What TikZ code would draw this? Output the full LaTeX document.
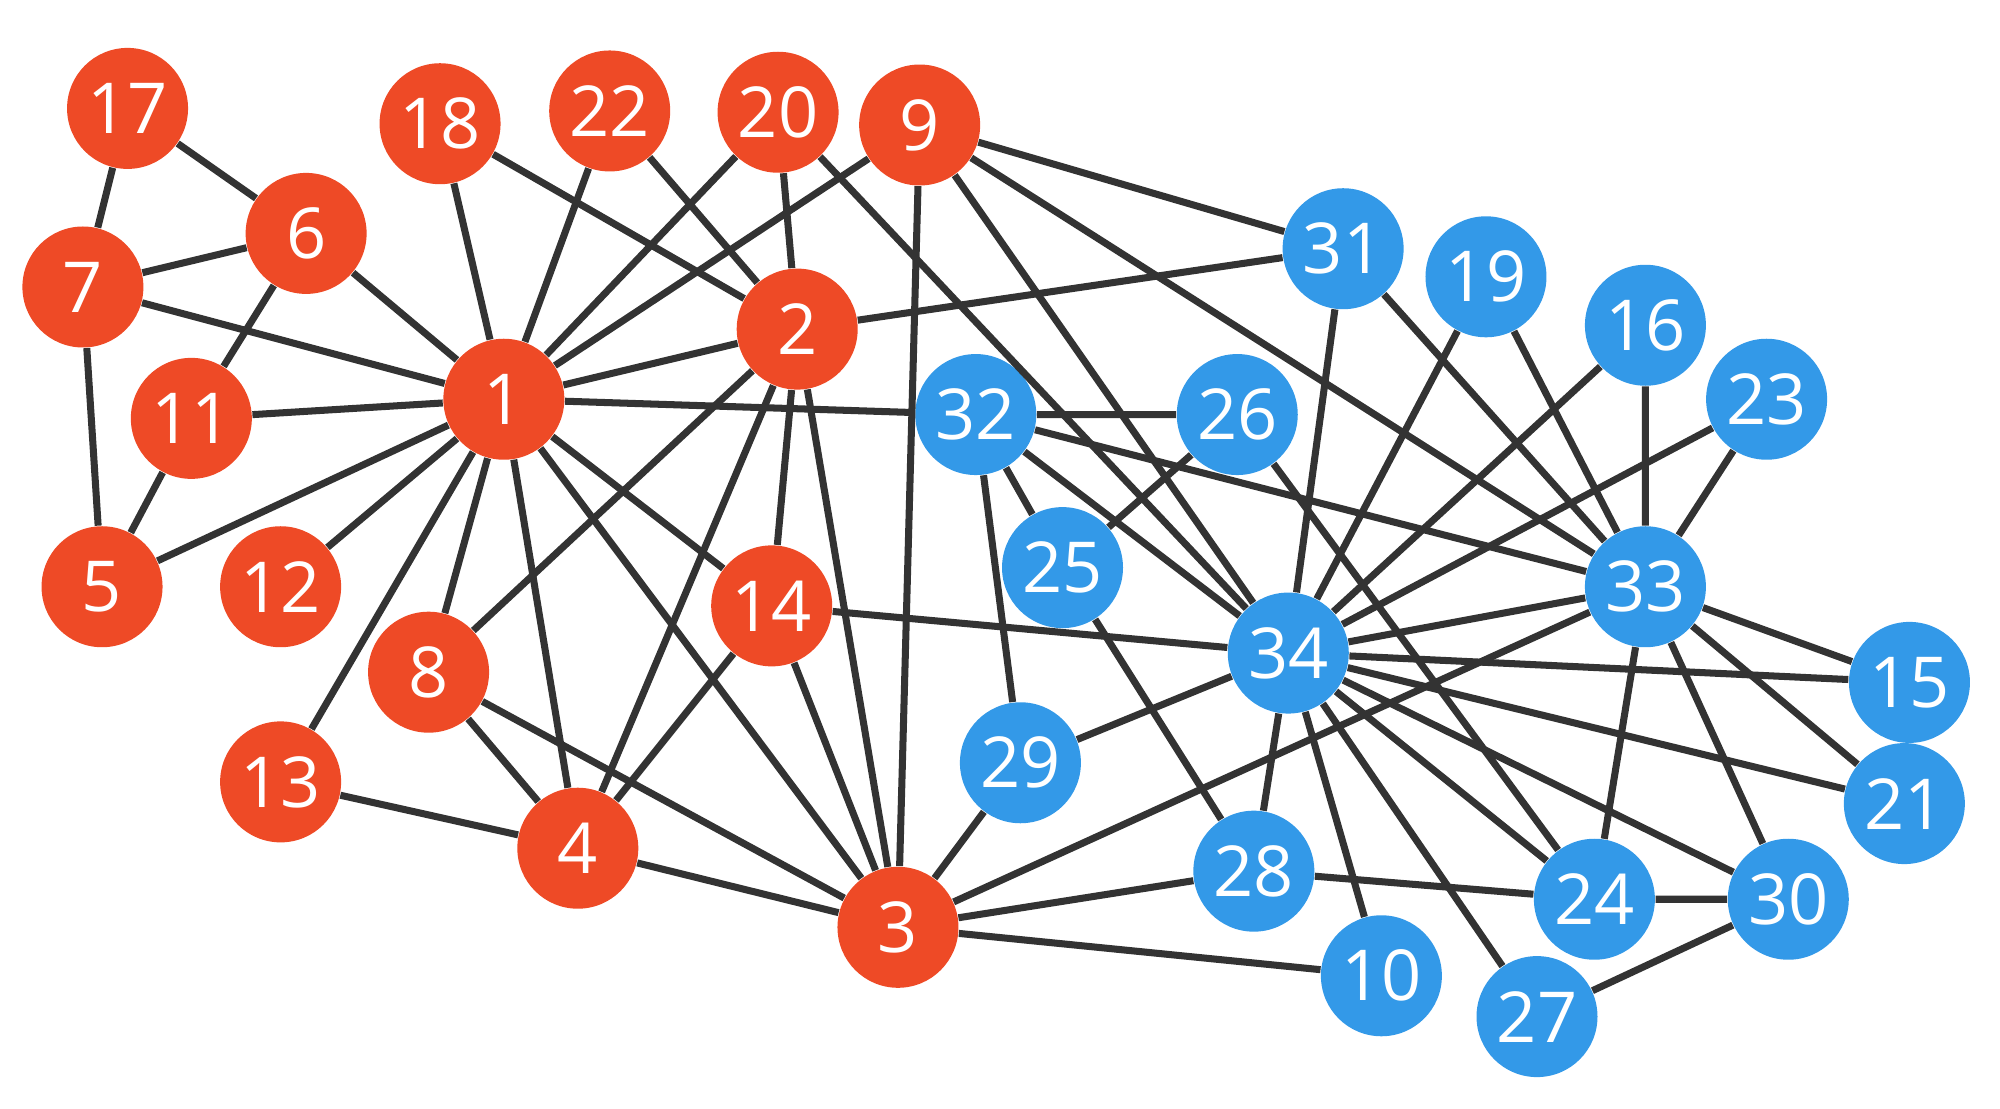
\documentclass[tikz,border=0pt]{standalone}
\usepackage{fontspec}
\setmainfont{Open Sans}
\usepackage{tikz}
\definecolor{clubred}{HTML}{EE4A26}
\definecolor{clubblue}{HTML}{3399E8}
\definecolor{edgegray}{HTML}{333333}

\begin{document}
\begin{tikzpicture}[x=0.012755cm,y=-0.012755cm,
  every node/.style={circle,inner sep=0pt,minimum size=1.21cm,text=white,font=\fontsize{20}{20}\selectfont},
  redmember/.style={fill=clubred},
  bluemember/.style={fill=clubblue},
  tie/.style={draw=edgegray,line width=2pt}]
  \useasboundingbox (0,0) rectangle (1568,869);
  \node[redmember] (v1) at (395,313) {1};
  \node[redmember] (v2) at (625,258) {2};
  \node[redmember] (v3) at (704,727) {3};
  \node[redmember] (v4) at (453,665) {4};
  \node[redmember] (v5) at (80,460) {5};
  \node[redmember] (v6) at (240,183) {6};
  \node[redmember] (v7) at (65,225) {7};
  \node[redmember] (v8) at (336,527) {8};
  \node[redmember] (v9) at (721,98) {9};
  \node[bluemember] (v10) at (1083,765) {10};
  \node[redmember] (v11) at (150,328) {11};
  \node[redmember] (v12) at (220,460) {12};
  \node[redmember] (v13) at (220,613) {13};
  \node[redmember] (v14) at (605,475) {14};
  \node[bluemember] (v15) at (1497,535) {15};
  \node[bluemember] (v16) at (1290,255) {16};
  \node[redmember] (v17) at (100,85) {17};
  \node[redmember] (v18) at (345,97) {18};
  \node[bluemember] (v19) at (1165,217) {19};
  \node[redmember] (v20) at (610,88) {20};
  \node[bluemember] (v21) at (1493,630) {21};
  \node[redmember] (v22) at (478,87) {22};
  \node[bluemember] (v23) at (1385,313) {23};
  \node[bluemember] (v24) at (1250,705) {24};
  \node[bluemember] (v25) at (833,445) {25};
  \node[bluemember] (v26) at (970,325) {26};
  \node[bluemember] (v27) at (1205,797) {27};
  \node[bluemember] (v28) at (983,683) {28};
  \node[bluemember] (v29) at (800,598) {29};
  \node[bluemember] (v30) at (1402,705) {30};
  \node[bluemember] (v31) at (1053,195) {31};
  \node[bluemember] (v32) at (765,325) {32};
  \node[bluemember] (v33) at (1290,460) {33};
  \node[bluemember] (v34) at (1010,512) {34};
  % edges
  \draw[tie] (v1) -- (v2) (v1) -- (v3) (v1) -- (v4) (v1) -- (v5) (v1) -- (v6) (v1) -- (v7) (v1) -- (v8) (v1) -- (v9);
  \draw[tie] (v1) -- (v11) (v1) -- (v12) (v1) -- (v13) (v1) -- (v14) (v1) -- (v18) (v1) -- (v20) (v1) -- (v22) (v1) -- (v32);
  \draw[tie] (v2) -- (v3) (v2) -- (v4) (v2) -- (v8) (v2) -- (v14) (v2) -- (v18) (v2) -- (v20) (v2) -- (v22) (v2) -- (v31);
  \draw[tie] (v3) -- (v4) (v3) -- (v8) (v3) -- (v9) (v3) -- (v10) (v3) -- (v14) (v3) -- (v28) (v3) -- (v29) (v3) -- (v33);
  \draw[tie] (v4) -- (v8) (v4) -- (v13) (v4) -- (v14);
  \draw[tie] (v5) -- (v7) (v5) -- (v11) (v6) -- (v7) (v6) -- (v11) (v6) -- (v17) (v7) -- (v17);
  \draw[tie] (v9) -- (v31) (v9) -- (v33) (v9) -- (v34) (v10) -- (v34) (v14) -- (v34);
  \draw[tie] (v15) -- (v33) (v15) -- (v34) (v16) -- (v33) (v16) -- (v34) (v19) -- (v33) (v19) -- (v34);
  \draw[tie] (v20) -- (v34) (v21) -- (v33) (v21) -- (v34) (v23) -- (v33) (v23) -- (v34);
  \draw[tie] (v24) -- (v26) (v24) -- (v28) (v24) -- (v30) (v24) -- (v33) (v24) -- (v34);
  \draw[tie] (v25) -- (v26) (v25) -- (v28) (v25) -- (v32) (v26) -- (v32) (v27) -- (v30) (v27) -- (v34);
  \draw[tie] (v28) -- (v34) (v29) -- (v32) (v29) -- (v34) (v30) -- (v33) (v30) -- (v34);
  \draw[tie] (v31) -- (v33) (v31) -- (v34) (v32) -- (v33) (v32) -- (v34) (v33) -- (v34);
\end{tikzpicture}
\end{document}
